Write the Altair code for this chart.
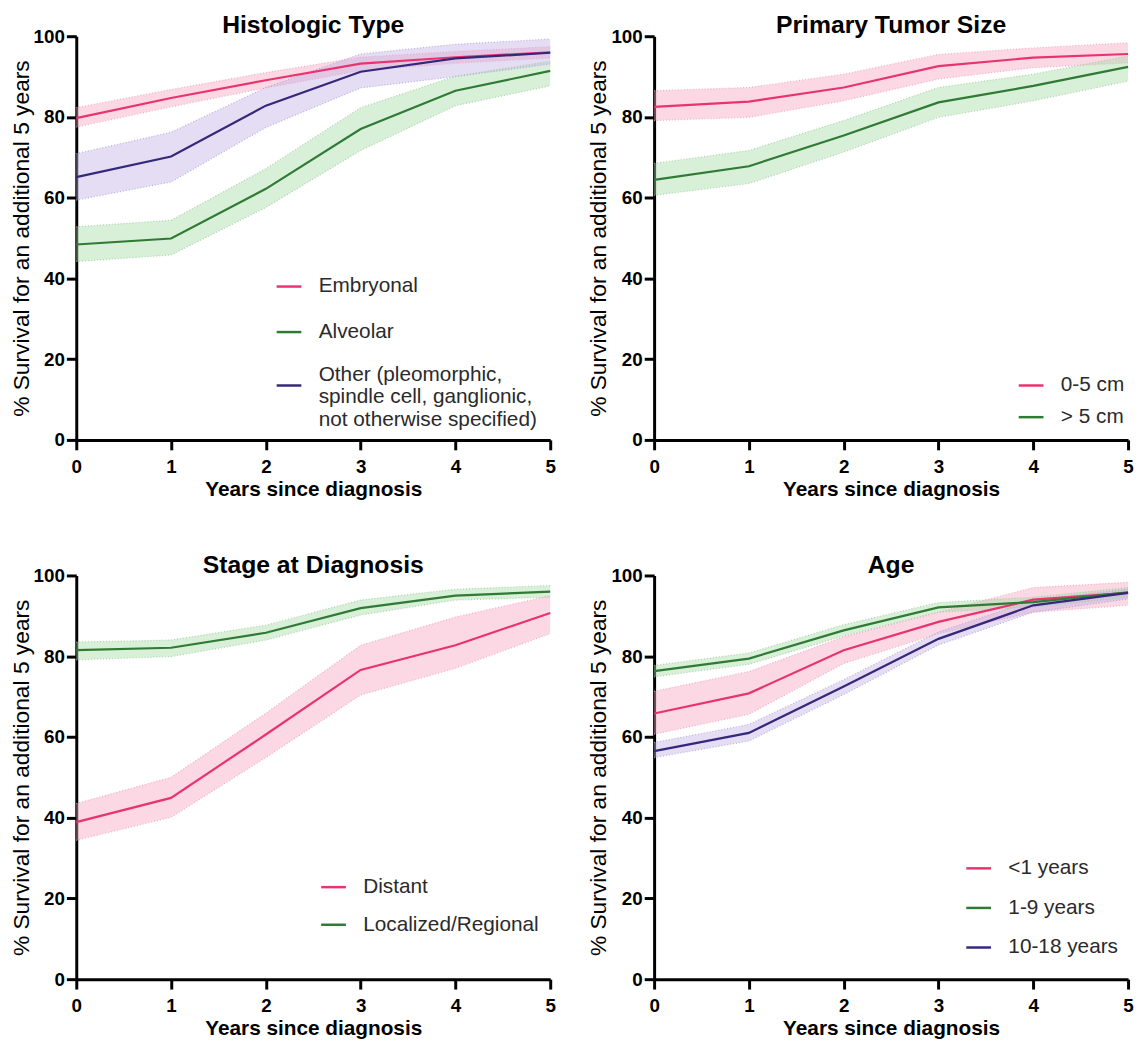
import altair as alt
import pandas as pd

years = [0, 1, 2, 3, 4, 5]

# ---- Histologic Type ----
hist_names = ["Embryonal", "Alveolar",
              "Other (pleomorphic,\nspindle cell, ganglionic,\nnot otherwise specified)"]
emb_mid = [79.7, 84.7, 89.1, 93.2, 94.8, 96.0]
emb_lo = [77.5, 82.5, 87.2, 91.5, 93.3, 94.6]
emb_hi = [82.3, 86.8, 91.0, 94.8, 96.2, 97.4]
alv_mid = [48.4, 49.9, 62.2, 77.0, 86.5, 91.4]
alv_lo = [44.2, 45.8, 57.6, 71.7, 82.8, 87.7]
alv_hi = [52.8, 54.4, 67.2, 82.3, 90.1, 93.8]
oth_mid = [65.1, 70.2, 82.8, 91.2, 94.5, 95.9]
oth_lo = [59.4, 63.9, 77.4, 87.2, 90.0, 93.1]
oth_hi = [70.9, 76.2, 87.3, 95.6, 98.0, 99.3]

# ---- Primary Tumor Size ----
size_names = ["0-5 cm", "> 5 cm"]
small_mid = [82.5, 83.8, 87.3, 92.6, 94.7, 95.6]
small_lo = [79.1, 79.9, 84.0, 89.4, 92.2, 93.4]
small_hi = [86.5, 87.3, 90.6, 95.5, 97.1, 98.4]
large_mid = [64.4, 67.8, 75.4, 83.6, 87.7, 92.4]
large_lo = [60.6, 63.5, 71.3, 79.9, 84.0, 88.9]
large_hi = [68.5, 71.7, 79.1, 87.3, 90.6, 95.1]

# ---- Stage at Diagnosis ----
stage_names = ["Distant", "Localized/Regional"]
dist_mid = [38.9, 44.9, 60.6, 76.6, 82.7, 90.7]
dist_lo = [34.4, 40.1, 54.9, 70.4, 77.0, 85.6]
dist_hi = [43.5, 50.0, 65.9, 82.7, 89.7, 95.0]
loc_mid = [81.5, 82.1, 85.8, 91.9, 95.0, 96.0]
loc_lo = [79.1, 79.9, 84.0, 90.2, 93.9, 94.6]
loc_hi = [83.5, 84.0, 87.7, 93.9, 96.6, 97.5]

# ---- Age ----
age_names = ["<1 years", "1-9 years", "10-18 years"]
inf_mid = [65.8, 70.8, 81.5, 88.5, 94.0, 95.7]
inf_lo = [60.7, 65.6, 78.2, 85.6, 90.9, 92.6]
inf_hi = [71.3, 76.2, 84.8, 90.9, 97.0, 98.3]
kid_mid = [76.3, 79.4, 86.4, 92.1, 93.4, 95.8]
kid_lo = [74.9, 78.0, 85.0, 90.9, 92.2, 94.6]
kid_hi = [77.7, 80.8, 87.8, 93.3, 94.6, 97.0]
teen_mid = [56.5, 61.0, 72.5, 84.3, 92.6, 95.7]
teen_lo = [54.9, 59.0, 70.5, 82.8, 90.9, 94.2]
teen_hi = [58.6, 63.1, 74.2, 86.0, 93.9, 96.6]

PINK, GREEN, PURPLE = "#E8336E", "#2F7A34", "#35287A"
PINK_F, GREEN_F, PURPLE_F = "#F7A8C4", "#A9DCA8", "#C3B3E6"
PINK_D, GREEN_D, PURPLE_D = "#E9A3BD", "#9FC9A0", "#AFA3CF"

FONT = "Liberation Sans"
BASELINE_EXPR = ("isValid(datum) && isString(datum.label) && length(datum.label) > 40"
                 " ? 'line-bottom' : 'middle'")


def make_df(names, mids, los, his):
    rows = []
    for n, m, lo, hi in zip(names, mids, los, his):
        for i, yr in enumerate(years):
            rows.append({"year": yr, "series": n, "band": n + " (band)", "edge": n + " (edge)",
                         "mid": m[i], "lo": lo[i], "hi": hi[i]})
    return pd.DataFrame(rows)


def panel(title, names, mids, los, his, lines, fills, dots, lx, ly, rowpad, multiline):
    df = make_df(names, mids, los, his)
    band_dom = [n + " (band)" for n in names]
    edge_dom = [n + " (edge)" for n in names]
    xs = alt.Scale(domain=[0, 5], nice=False)
    ys = alt.Scale(domain=[0, 100], nice=False)
    xax = alt.Axis(values=years, format="d", title="Years since diagnosis",
                   titleFontWeight="bold", titleFontSize=21, labelPadding=8,
                   titlePadding=2, labelFlush=False)
    yax = alt.Axis(values=[0, 20, 40, 60, 80, 100], title="% Survival for an additional 5 years",
                   titleFontWeight="normal", titleFontSize=23, labelPadding=2, titlePadding=0)
    base = alt.Chart(df)
    band = base.mark_area(opacity=0.45).encode(
        x=alt.X("year:Q", scale=xs, axis=xax),
        y=alt.Y("lo:Q", scale=ys, axis=yax),
        y2="hi:Q",
        fill=alt.Fill("band:N", scale=alt.Scale(domain=band_dom, range=fills), legend=None),
    )
    dlo = base.mark_line(strokeDash=[1, 2], strokeWidth=1.2, opacity=0.8).encode(
        x=alt.X("year:Q", scale=xs, axis=xax),
        y=alt.Y("lo:Q", scale=ys, axis=yax),
        stroke=alt.Stroke("edge:N", scale=alt.Scale(domain=edge_dom, range=dots), legend=None),
    )
    dhi = base.mark_line(strokeDash=[1, 2], strokeWidth=1.2, opacity=0.8).encode(
        x=alt.X("year:Q", scale=xs, axis=xax),
        y=alt.Y("hi:Q", scale=ys, axis=yax),
        stroke=alt.Stroke("edge:N", scale=alt.Scale(domain=edge_dom, range=dots), legend=None),
    )
    leg_kw = dict(title=None, orient="none", legendX=lx, legendY=ly,
                  symbolType="stroke", symbolSize=625,
                  symbolStrokeWidth=2.5, labelFontSize=21,
                  labelFont=FONT, labelColor="#2a2a2a",
                  labelLimit=400, labelOffset=16,
                  rowPadding=rowpad, padding=0,
                  labelExpr="split(datum.label, '\\n')")
    if multiline:
        leg_kw["labelBaseline"] = alt.ExprRef(expr=BASELINE_EXPR)
    line = base.mark_line(strokeWidth=2.2).encode(
        x=alt.X("year:Q", scale=xs, axis=xax),
        y=alt.Y("mid:Q", scale=ys, axis=yax),
        color=alt.Color("series:N", scale=alt.Scale(domain=names, range=lines),
                        legend=alt.Legend(**leg_kw)),
    )
    return alt.layer(band, dlo, dhi, line).properties(
        width=479, height=408,
        title=alt.TitleParams(title, fontSize=25, font=FONT, fontWeight="bold",
                              anchor="middle", frame="group", offset=-11, color="black"),
    )


def build(multiline):
    p1 = panel("Histologic Type", hist_names, [emb_mid, alv_mid, oth_mid],
               [emb_lo, alv_lo, oth_lo], [emb_hi, alv_hi, oth_hi],
               [PINK, GREEN, PURPLE], [PINK_F, GREEN_F, PURPLE_F], [PINK_D, GREEN_D, PURPLE_D],
               201, 239, 22, multiline)
    p2 = panel("Primary Tumor Size", size_names, [small_mid, large_mid],
               [small_lo, large_lo], [small_hi, large_hi],
               [PINK, GREEN], [PINK_F, GREEN_F], [PINK_D, GREEN_D],
               367, 339, 8, False)
    p3 = panel("Stage at Diagnosis", stage_names, [dist_mid, loc_mid],
               [dist_lo, loc_lo], [dist_hi, loc_hi],
               [PINK, GREEN], [PINK_F, GREEN_F], [PINK_D, GREEN_D],
               246, 301, 14, False)
    p4 = panel("Age", age_names, [inf_mid, kid_mid, teen_mid],
               [inf_lo, kid_lo, teen_lo], [inf_hi, kid_hi, teen_hi],
               [PINK, GREEN, PURPLE], [PINK_F, GREEN_F, PURPLE_F], [PINK_D, GREEN_D, PURPLE_D],
               314, 282, 16, False)

    res = dict(color="independent", fill="independent", stroke="independent")
    top = alt.hconcat(p1, p2, spacing=32).resolve_scale(**res)
    bottom = alt.hconcat(p3, p4, spacing=32).resolve_scale(**res)

    return alt.vconcat(top, bottom, spacing=54).resolve_scale(**res).properties(
        padding={"left": 2, "top": 0, "right": 0, "bottom": 0}
    ).configure_view(stroke=None).configure_axis(
        domainColor="black", domainWidth=3, tickColor="black", tickWidth=3, tickSize=10,
        labelFont=FONT, labelFontSize=19, labelFontWeight="bold", labelColor="black",
        titleFont=FONT, titleColor="black", grid=False,
    )


chart = None
for ml in (True, False):
    try:
        c = build(ml)
        c.to_dict()
        chart = c
        break
    except Exception:
        continue

chart.save("out.html", embed_options={"renderer": "svg", "actions": False})
